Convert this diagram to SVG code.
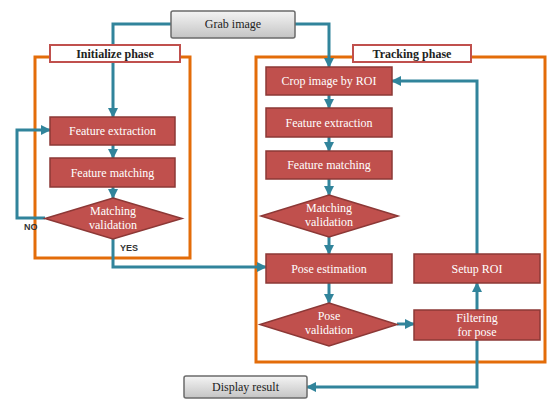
<svg xmlns="http://www.w3.org/2000/svg" width="547" height="403" viewBox="0 0 547 403">
<defs>
<linearGradient id="gray" x1="0" y1="0" x2="0" y2="1">
<stop offset="0" stop-color="#f4f4f4"/>
<stop offset="0.5" stop-color="#dcdcdc"/>
<stop offset="1" stop-color="#c4c4c4"/>
</linearGradient>
<marker id="arr" viewBox="0 0 10 10" refX="9" refY="5" markerWidth="3.4" markerHeight="3.4" orient="auto" markerUnits="strokeWidth">
<path d="M0,0 L10,5 L0,10 z" fill="#31849b"/>
</marker>
</defs>
<style>
.frame{fill:none;stroke:#e36c09;stroke-width:3}
.lbl{fill:#ffffff;stroke:#c0504d;stroke-width:2}
.proc{fill:#c0504d;stroke:#8c3836;stroke-width:1.5}
.term{fill:url(#gray);stroke:#6b6b6b;stroke-width:1.5}
.con{fill:none;stroke:#31849b;stroke-width:3;marker-end:url(#arr)}
.wt{font-family:"Liberation Serif",serif;font-size:12px;fill:#ffffff;text-anchor:middle}
.dt{font-family:"Liberation Serif",serif;font-size:12px;fill:#222222;text-anchor:middle}
.bt{font-family:"Liberation Serif",serif;font-size:12px;font-weight:bold;fill:#222222;text-anchor:middle}
.st{font-family:"Liberation Sans",sans-serif;font-size:9px;font-weight:bold;fill:#333333}
</style>

<g id="frames">
<rect class="frame" x="35" y="57" width="155" height="201"/>
<rect class="frame" x="256" y="57" width="289" height="305"/>
</g>

<g id="connectors">
<path class="con" d="M171,24 H113 V117"/>
<path class="con" d="M295,24 H329 V67"/>
<path class="con" d="M113,145 V158"/>
<path class="con" d="M113,187 V198"/>
<path class="con" d="M45,218 H17 V130 H50"/>
<path class="con" d="M113,239 V267 H266"/>
<path class="con" d="M329,95 V108"/>
<path class="con" d="M329,137 V151"/>
<path class="con" d="M329,179 V195"/>
<path class="con" d="M329,237 V254"/>
<path class="con" d="M329,283 V303"/>
<path class="con" d="M397,324 H414"/>
<path class="con" d="M477,310 V283"/>
<path class="con" d="M477,254 V81 H392"/>
<path class="con" d="M477,340 V387 H307"/>
</g>

<g id="grab">
<rect class="term" x="171" y="11" width="124" height="27" rx="2"/>
<text class="dt" x="233" y="28">Grab image</text>
</g>

<g id="init-label">
<rect class="lbl" x="50" y="45" width="130" height="17"/>
<text class="bt" x="115" y="58">Initialize phase</text>
</g>

<g id="track-label">
<rect class="lbl" x="353" y="45" width="118" height="17"/>
<text class="bt" x="412" y="58">Tracking phase</text>
</g>

<g id="init-fe">
<rect class="proc" x="50" y="117" width="125" height="28"/>
<text class="wt" x="112.5" y="135">Feature extraction</text>
</g>
<g id="init-fm">
<rect class="proc" x="50" y="158" width="125" height="29"/>
<text class="wt" x="112.5" y="176.5">Feature matching</text>
</g>
<g id="init-mv">
<polygon class="proc" points="113,198 182,218.5 113,239 45,218.5"/>
<text class="wt" x="113" y="215">Matching</text>
<text class="wt" x="113" y="228.5">validation</text>
</g>
<text class="st" x="24" y="230">NO</text>
<text class="st" x="120" y="251">YES</text>

<g id="crop">
<rect class="proc" x="266" y="67" width="126" height="28"/>
<text class="wt" x="329" y="85">Crop image by ROI</text>
</g>
<g id="trk-fe">
<rect class="proc" x="266" y="108" width="126" height="29"/>
<text class="wt" x="329" y="126.5">Feature extraction</text>
</g>
<g id="trk-fm">
<rect class="proc" x="266" y="151" width="126" height="28"/>
<text class="wt" x="329" y="169">Feature matching</text>
</g>
<g id="trk-mv">
<polygon class="proc" points="329,195 398,216 329,237 261,216"/>
<text class="wt" x="329" y="212">Matching</text>
<text class="wt" x="329" y="225.5">validation</text>
</g>
<g id="pose-est">
<rect class="proc" x="266" y="254" width="126" height="29"/>
<text class="wt" x="329" y="272.5">Pose estimation</text>
</g>
<g id="pose-val">
<polygon class="proc" points="329,303 397,324.5 329,346 260,324.5"/>
<text class="wt" x="329" y="320">Pose</text>
<text class="wt" x="329" y="333.5">validation</text>
</g>
<g id="setup-roi">
<rect class="proc" x="414" y="254" width="126" height="29"/>
<text class="wt" x="477" y="272.5">Setup ROI</text>
</g>
<g id="filter">
<rect class="proc" x="414" y="310" width="126" height="30"/>
<text class="wt" x="477" y="322">Filtering</text>
<text class="wt" x="477" y="335.5">for pose</text>
</g>
<g id="display">
<rect class="term" x="184" y="376" width="123" height="22" rx="2"/>
<text class="dt" x="245.5" y="391">Display result</text>
</g>
</svg>
